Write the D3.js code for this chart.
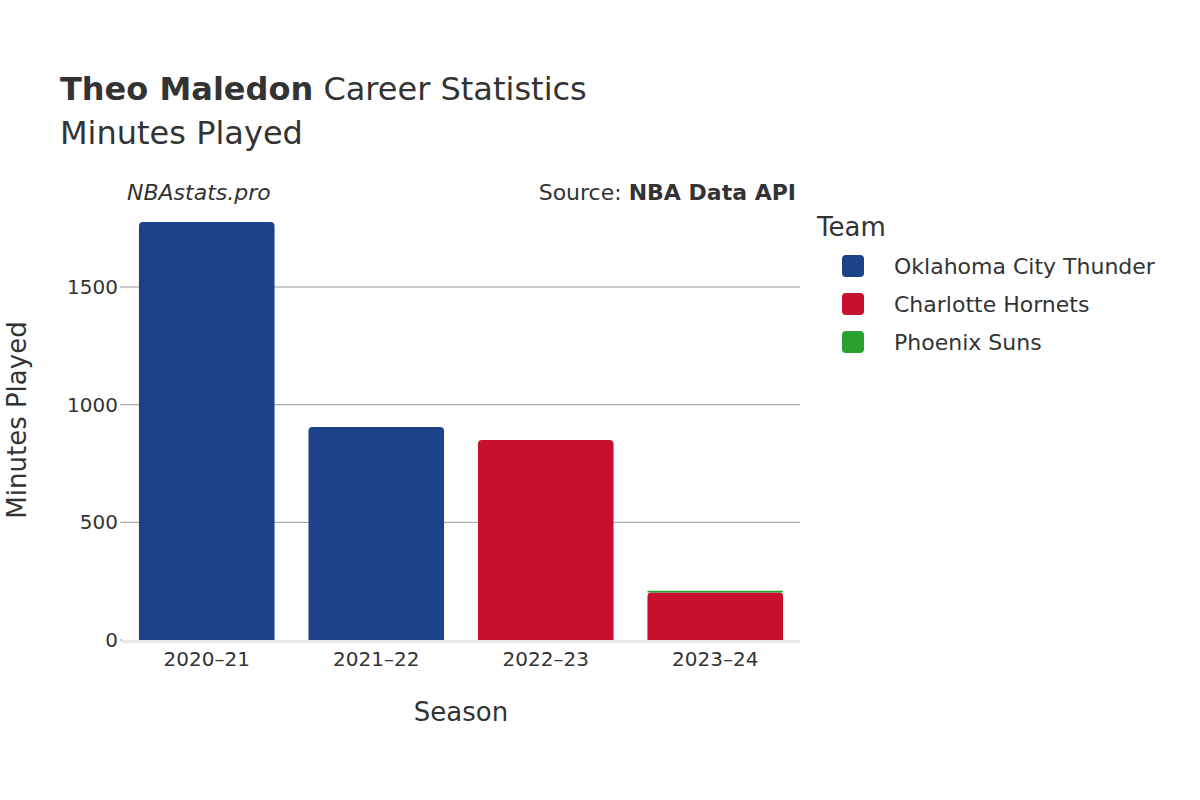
<!DOCTYPE html>
<html><head><meta charset="utf-8">
<script src="https://cdn.jsdelivr.net/npm/d3@7"></script>
<style>body{margin:0;background:#fff}text{font-family:"DejaVu Sans",sans-serif;fill:#333}</style>
</head><body>
<svg id="chart" width="1200" height="800"></svg>
<script>
// ── Data ──
const seasons = ['2020–21', '2021–22', '2022–23', '2023–24'];
const teams = ['Oklahoma City Thunder', 'Charlotte Hornets', 'Phoenix Suns'];
const colors = ['#1d428a', '#c8102e', '#29a131'];
// minutes per season, stacked in team order
const okc = [1776, 905, 0, 0];
const cha = [0, 0, 850, 202];
const phx = [0, 0, 0, 7];
const yTicks = [0, 500, 1000, 1500];

const svg = d3.select('#chart');
const m = {l: 122, r: 800, t: 205, b: 640};
const x = d3.scaleBand().domain(seasons).range([m.l, m.r]).paddingInner(0.2).paddingOuter(0.1);
const y = d3.scaleLinear().domain([0, 1776 / 0.985 * 1.0]).range([m.b, 205]);
y.domain([0, (m.b - 205) / ((640 - 287) / 1500)]);

// gridlines
svg.append('g').selectAll('line').data(yTicks.filter(d => d > 0)).join('line')
  .attr('x1', m.l).attr('x2', m.r).attr('y1', d => y(d)).attr('y2', d => y(d))
  .attr('stroke', '#999').attr('stroke-width', 1);
svg.append('line').attr('x1', m.l).attr('x2', m.r).attr('y1', m.b + 1.5).attr('y2', m.b + 1.5)
  .attr('stroke', '#e8e8e8').attr('stroke-width', 3);

// y ticks
svg.append('g').selectAll('text').data(yTicks).join('text')
  .attr('x', m.l - 4).attr('y', d => y(d)).attr('dy', '0.35em').attr('text-anchor', 'end')
  .attr('font-size', 20).text(d => d);
svg.append('g').selectAll('line').data(yTicks).join('line')
  .attr('x1', m.l - 2).attr('x2', m.l + 0).attr('y1', d => y(d)).attr('y2', d => y(d)).attr('stroke', '#999');

// bars
const series = [okc, cha, phx];
const stacked = seasons.map((s, i) => {
  let base = 0; const segs = [];
  series.forEach((arr, t) => { if (arr[i] > 0) { segs.push({s, t, y0: base, y1: base + arr[i]}); base += arr[i]; } });
  return segs;
}).flat();
svg.append('g').selectAll('path').data(stacked).join('path')
  .attr('fill', d => colors[d.t])
  .attr('d', d => {
    const x0 = x(d.s), w = x.bandwidth(), yt = y(d.y1), yb = y(d.y0);
    const r = Math.min(4, (yb - yt) / 2);
    return `M${x0},${yb}V${yt + r}Q${x0},${yt} ${x0 + r},${yt}H${x0 + w - r}Q${x0 + w},${yt} ${x0 + w},${yt + r}V${yb}Z`;
  });

// x labels
svg.append('g').selectAll('text').data(seasons).join('text')
  .attr('x', d => x(d) + x.bandwidth() / 2).attr('y', 666).attr('text-anchor', 'middle')
  .attr('font-size', 20).text(d => d);

// titles
svg.append('text').attr('x', 60).attr('y', 100).attr('font-size', 32)
  .html('<tspan font-weight="bold">Theo Maledon</tspan> Career Statistics');
svg.append('text').attr('x', 60).attr('y', 144).attr('font-size', 32).text('Minutes Played');
svg.append('text').attr('x', 127).attr('y', 200).attr('font-size', 22).attr('font-style', 'italic').text('NBAstats.pro');
svg.append('text').attr('x', 796).attr('y', 200).attr('font-size', 22).attr('text-anchor', 'end')
  .html('Source: <tspan font-weight="bold">NBA Data API</tspan>');
svg.append('text').attr('x', 461).attr('y', 721).attr('font-size', 26).attr('text-anchor', 'middle').text('Season');
svg.append('text').attr('transform', 'translate(26,420) rotate(-90)').attr('font-size', 26)
  .attr('text-anchor', 'middle').text('Minutes Played');

// legend
svg.append('text').attr('x', 817).attr('y', 236).attr('font-size', 26).text('Team');
const lg = svg.append('g').selectAll('g').data(teams).join('g')
  .attr('transform', (d, i) => `translate(842,${266 + i * 38})`);
lg.append('rect').attr('x', 0).attr('y', -11).attr('width', 22).attr('height', 22).attr('rx', 4)
  .attr('fill', (d, i) => colors[i]);
lg.append('text').attr('x', 52).attr('dy', '0.35em').attr('font-size', 22).text(d => d);
</script>
</body></html>
